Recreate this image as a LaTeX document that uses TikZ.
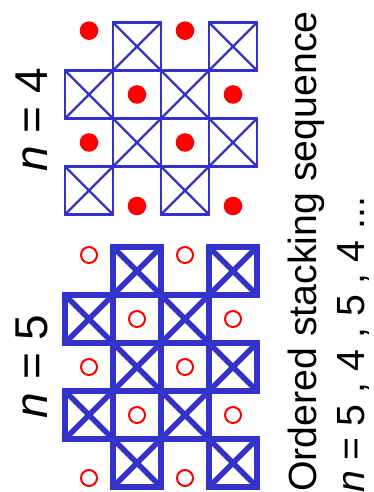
\documentclass[tikz,border=0pt]{standalone}
\usepackage{fontspec}
\setmainfont{Liberation Sans}
\definecolor{boxblue}{RGB}{51,51,204}
\definecolor{dotred}{RGB}{255,0,0}
\begin{document}
\begin{tikzpicture}[x=1bp,y=-1bp,
  xbox/.style={draw=boxblue, line width=#1, minimum size=48bp, inner sep=0pt, outer sep=0pt,
    path picture={\draw[boxblue, line width=#1]
      (path picture bounding box.north west) -- (path picture bounding box.south east)
      (path picture bounding box.north east) -- (path picture bounding box.south west);}},
  fulldot/.style={circle, fill=dotred, minimum size=18.6bp, inner sep=0pt},
  opendot/.style={circle, draw=dotred, line width=2bp, minimum size=16bp, inner sep=0pt},
  lbl/.style={rotate=90, inner sep=0pt, anchor=base, font=\fontsize{46bp}{52bp}\selectfont},
  seq/.style={rotate=90, inner sep=0pt, anchor=base west, font=\fontsize{39.3bp}{47bp}\selectfont}
]
\useasboundingbox (0,0) rectangle (373,492);
% n = 4 grid
\foreach \r/\c in {0/1,0/3,1/0,1/2,2/1,2/3,3/0,3/2}
  \node[xbox=2.3bp] (t\r\c) at ({89+48*\c},{46.5+48*\r}) {};
\foreach \r/\c/\yy in {0/0/30.7,0/2/30.7,1/1/94.5,1/3/94.5,2/0/142.5,2/2/142.5,3/1/206,3/3/206}
  \node[fulldot] (td\r\c) at ({89+48*\c},\yy) {};
% n = 5 grid
\foreach \r/\c in {0/1,0/3,1/0,1/2,2/1,2/3,3/0,3/2,4/1,4/3}
  \node[xbox=5.5bp] (b\r\c) at ({89+48*\c},{271+48*\r}) {};
\foreach \r/\c/\yy in {0/0/255,0/2/255,1/1/319,1/3/319,2/0/367,2/2/367,3/1/415,3/3/415,4/0/478,4/2/478}
  \node[opendot] (bd\r\c) at ({89+48*\c},\yy) {};
% labels
\node[lbl] (n4) at (47,120) {\textit{n} = 4};
\node[lbl] (n5) at (47,366.5) {\textit{n} = 5};
\node[seq] (l1) at (316,492) {Ordered stacking sequence};
\node[seq] (l2) at (364,493) {\textit{n} = 5 , 4 , 5 , 4 ...};
\end{tikzpicture}
\end{document}
